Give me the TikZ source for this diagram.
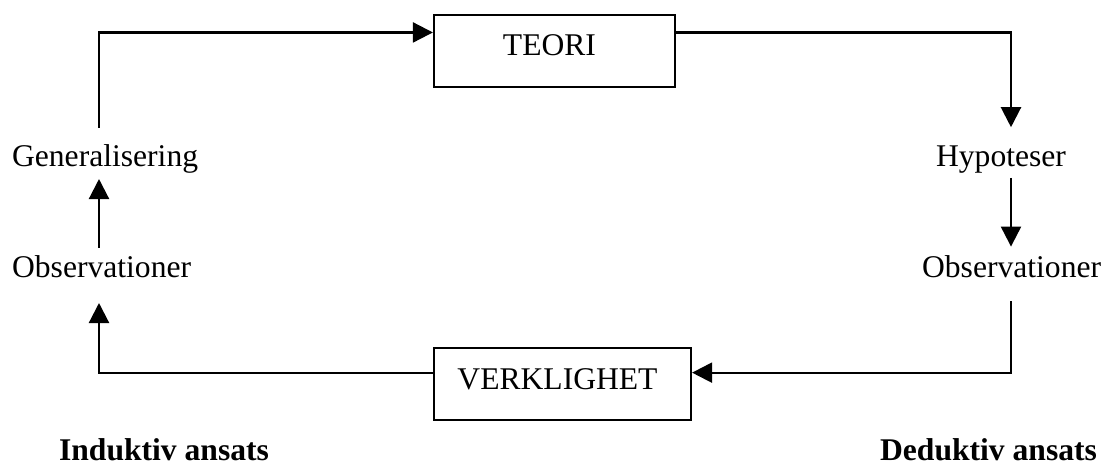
\documentclass[tikz,border=0pt]{standalone}
\usepackage{fontspec}
\setmainfont{Liberation Serif}
\usetikzlibrary{arrows.meta,calc}
\begin{document}
\begin{tikzpicture}[x=1pt,y=-1pt,line width=2.2pt,
  lbl/.style={inner sep=0pt,anchor=base west,font=\fontsize{31.6}{38}\selectfont},
  boldlbl/.style={lbl,font=\fontsize{31.6}{38}\selectfont\bfseries},
  boxnode/.style={draw,line width=2.2pt,minimum height=72pt,inner sep=0pt,
    text height=22pt,text depth=12pt,font=\fontsize{31.6}{38}\selectfont},
  conn/.style={-{Triangle[length=20pt,width=20pt]}}]
\useasboundingbox (0,0) rectangle (1104,465);
\node[boxnode,minimum width=241pt] (teori) at (554.5,51) {\kern-10pt TEORI};
\node[boxnode,minimum width=257pt] (verk) at (562.5,384) {\kern-10pt VERKLIGHET};
\node[lbl] (gen) at (11,167) {Generalisering};
\node[lbl] (obsL) at (11,278) {Observationer};
\node[lbl] (hyp) at (935,167) {Hypoteser};
\node[lbl] (obsR) at (921,278) {Observationer};
\node[boldlbl] (ind) at (58,460) {Induktiv ansats};
\node[boldlbl] (ded) at (879,460) {Deduktiv ansats};
\coordinate (L) at (99,373);
\coordinate (R) at (1011,33);
\coordinate (tin) at ($(teori.north west)!0.25!(teori.south west)$);
\coordinate (tout) at ($(teori.north east)!0.25!(teori.south east)$);
\coordinate (vin) at ($(verk.north east)!0.347!(verk.south east)$);
\coordinate (vout) at ($(verk.north west)!0.347!(verk.south west)$);
\draw[conn,shorten <=16.4pt] (gen.north -| L) |- (tin);
\draw[conn,shorten >=18pt] (tout) -| (hyp.north -| R);
\draw[conn,shorten <=3pt,shorten >=8.4pt] (hyp.south -| R) -- (obsR.north -| R);
\draw[conn,shorten <=21.6pt] (obsR.south -| R) |- (vin);
\draw[conn,shorten >=23.6pt] (vout) -| (obsL.south -| L);
\draw[conn,shorten <=7.4pt,shorten >=4.1pt] (obsL.north -| L) -- (gen.south -| L);
\end{tikzpicture}
\end{document}
